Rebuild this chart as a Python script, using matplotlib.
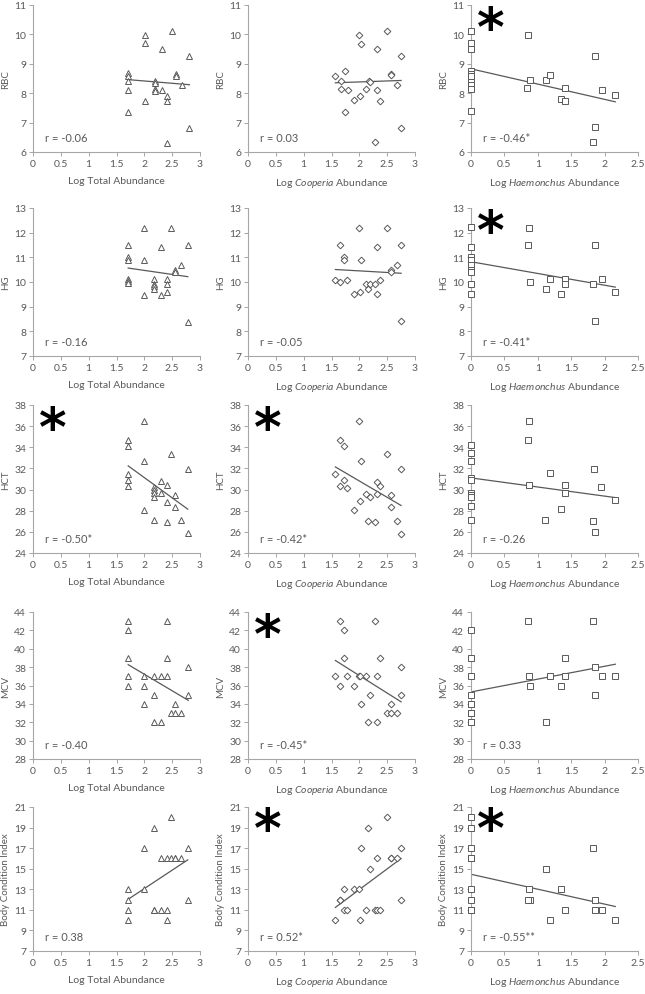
import numpy as np
import matplotlib
matplotlib.use("Agg")
import matplotlib.pyplot as plt

plt.rcParams['font.family'] = ['Lato', 'DejaVu Sans']
plt.rcParams['mathtext.fontset'] = 'custom'
plt.rcParams['mathtext.rm'] = 'Lato'
plt.rcParams['mathtext.it'] = 'Lato:italic'

# ---- data ----
# row 1: RBC
rbc_total_x = [1.71, 1.71, 1.71, 1.71, 1.71, 2.01, 2.01, 2.01, 2.19, 2.19, 2.19, 2.19,
               2.31, 2.31, 2.41, 2.41, 2.41, 2.5, 2.56, 2.56, 2.67, 2.81, 2.81]
rbc_total_y = [8.7, 8.6, 8.4, 8.1, 7.35, 9.98, 9.7, 7.75, 8.4, 8.36, 8.14, 8.08,
               9.5, 8.1, 7.9, 7.72, 6.3, 10.1, 8.65, 8.6, 8.28, 9.25, 6.8]
rbc_coop_x = [1.57, 1.67, 1.67, 1.74, 1.74, 1.79, 1.91, 1.99, 2.02, 2.03, 2.12, 2.17,
              2.2, 2.28, 2.32, 2.32, 2.37, 2.5, 2.56, 2.56, 2.68, 2.75, 2.75]
rbc_coop_y = [8.6, 8.42, 8.14, 8.74, 7.36, 8.12, 7.78, 9.98, 7.9, 9.69, 8.14, 8.42,
              8.39, 6.33, 9.5, 8.12, 7.74, 10.1, 8.65, 8.61, 8.28, 9.25, 6.8]
rbc_haem_x = [0, 0, 0, 0, 0, 0, 0, 0, 0, 0, 0.86, 0.84, 0.89, 1.12, 1.19, 1.34, 1.4,
              1.4, 1.85, 1.85, 1.83, 1.96, 2.16]
rbc_haem_y = [10.12, 9.7, 9.5, 8.75, 8.67, 8.6, 8.38, 8.29, 8.13, 7.4, 9.99, 8.16, 8.44,
              8.44, 8.62, 7.79, 8.16, 7.73, 9.26, 6.84, 6.34, 8.12, 7.93]

# row 2: HG
hg_total_x = [1.71, 1.71, 1.71, 1.71, 1.71, 1.71, 2.0, 2.0, 2.0, 2.18, 2.18, 2.18, 2.18,
              2.3, 2.3, 2.4, 2.4, 2.4, 2.48, 2.55, 2.55, 2.66, 2.78, 2.78]
hg_total_y = [11.48, 11.0, 10.9, 10.12, 10.03, 9.96, 12.2, 10.9, 9.47, 10.12, 9.92, 9.85,
              9.71, 11.4, 9.47, 10.12, 9.9, 9.58, 12.2, 10.5, 10.4, 10.7, 11.48, 8.38]
hg_coop_x = [1.57, 1.66, 1.66, 1.73, 1.73, 1.78, 1.91, 1.99, 2.01, 2.03, 2.12, 2.16, 2.2,
             2.28, 2.32, 2.32, 2.37, 2.5, 2.56, 2.56, 2.68, 2.75, 2.75]
hg_coop_y = [10.1, 11.5, 10.0, 11.0, 10.9, 10.1, 9.5, 12.2, 9.6, 10.9, 9.9, 9.7, 9.9,
             9.9, 11.4, 9.5, 10.1, 12.2, 10.5, 10.4, 10.7, 11.5, 8.4]
hg_haem_x = [0, 0, 0, 0, 0, 0, 0, 0, 0, 0, 0.87, 0.85, 0.89, 1.12, 1.19, 1.34, 1.4, 1.4,
             1.85, 1.83, 1.85, 1.96, 2.16]
hg_haem_y = [12.22, 11.41, 11.0, 10.88, 10.88, 10.7, 10.49, 10.4, 9.92, 9.5, 12.2, 11.5,
             10.0, 9.71, 10.12, 9.5, 10.12, 9.92, 11.5, 9.9, 8.4, 10.12, 9.6]

# row 3: HCT
hct_total_x = [1.71, 1.71, 1.71, 1.71, 1.71, 2.0, 2.0, 2.0, 2.18, 2.18, 2.18, 2.18, 2.18,
               2.3, 2.3, 2.4, 2.4, 2.4, 2.48, 2.55, 2.55, 2.66, 2.78, 2.78]
hct_total_y = [34.66, 34.1, 31.48, 30.94, 30.37, 36.46, 32.68, 28.07, 30.2, 30.0, 29.65,
               29.27, 27.1, 30.8, 29.65, 30.4, 28.8, 26.97, 33.37, 29.52, 28.38, 27.1,
               31.95, 25.9]
hct_coop_x = [1.57, 1.66, 1.66, 1.73, 1.73, 1.78, 1.91, 1.99, 2.01, 2.03, 2.12, 2.16, 2.2,
              2.28, 2.32, 2.32, 2.37, 2.5, 2.56, 2.56, 2.68, 2.75, 2.75]
hct_coop_y = [31.49, 34.67, 30.38, 34.13, 30.95, 30.16, 28.03, 36.5, 28.9, 32.67, 29.62,
              27.05, 29.27, 26.92, 30.76, 29.62, 30.38, 33.37, 29.46, 28.35, 27.05, 31.9,
              25.8]
hct_haem_x = [0, 0, 0, 0, 0, 0, 0, 0, 0, 0, 0.85, 0.87, 0.87, 1.11, 1.19, 1.35, 1.4, 1.4,
              1.84, 1.83, 1.85, 1.94, 2.16]
hct_haem_y = [34.19, 33.43, 32.74, 31.13, 30.9, 29.7, 29.49, 29.3, 28.48, 27.15, 34.7,
              36.5, 30.43, 27.15, 31.54, 28.13, 30.43, 29.7, 31.98, 27.03, 25.96, 30.28,
              28.98]

# row 4: MCV
mcv_total_x = [1.71, 1.71, 1.71, 1.71, 1.71, 2.0, 2.0, 2.0, 2.18, 2.18, 2.18, 2.3, 2.3,
               2.4, 2.4, 2.4, 2.48, 2.55, 2.55, 2.66, 2.79, 2.79]
mcv_total_y = [43, 42, 39, 37, 36, 37, 36, 34, 37, 35, 32, 37, 32, 43, 39, 37, 33, 34, 33,
               33, 38, 35]
mcv_coop_x = [1.57, 1.66, 1.66, 1.73, 1.73, 1.78, 1.91, 1.99, 2.01, 2.03, 2.12, 2.16, 2.2,
              2.28, 2.32, 2.32, 2.37, 2.5, 2.56, 2.56, 2.68, 2.75, 2.75]
mcv_coop_y = [37, 43, 36, 42, 39, 37, 36, 37, 37, 34, 37, 32, 35, 43, 37, 32, 39, 33, 34,
              33, 33, 38, 35]
mcv_haem_x = [0, 0, 0, 0, 0, 0, 0, 0, 0, 0, 0.85, 0.87, 0.89, 1.12, 1.19, 1.35, 1.4, 1.4,
              1.83, 1.85, 1.85, 1.96, 2.16]
mcv_haem_y = [42, 39, 37, 35, 34, 34, 33, 33, 32, 32, 43, 37, 36, 32, 37, 36, 39, 37, 43,
              38, 35, 37, 37]

# row 5: Body Condition Index
bci_total_x = [1.71, 1.71, 1.71, 1.71, 2.0, 2.0, 2.18, 2.18, 2.18, 2.3, 2.3, 2.4, 2.4,
               2.4, 2.48, 2.48, 2.55, 2.55, 2.66, 2.78, 2.78]
bci_total_y = [13, 12, 11, 10, 17, 13, 19, 11, 11, 16, 11, 16, 11, 10, 20, 16, 16, 16, 16,
               17, 12]
bci_coop_x = [1.57, 1.66, 1.66, 1.73, 1.73, 1.78, 1.91, 1.99, 2.01, 2.03, 2.12, 2.16, 2.2,
              2.28, 2.32, 2.32, 2.37, 2.5, 2.56, 2.56, 2.68, 2.75, 2.75]
bci_coop_y = [10, 12, 12, 13, 11, 11, 13, 13, 10, 17, 11, 19, 15, 11, 11, 16, 11, 20, 16,
              16, 16, 17, 12]
bci_haem_x = [0, 0, 0, 0, 0, 0, 0, 0, 0, 0, 0.87, 0.89, 0.85, 1.12, 1.19, 1.35, 1.4, 1.83,
              1.85, 1.85, 1.96, 2.16]
bci_haem_y = [20, 19, 17, 16, 16, 13, 12, 11, 11, 11, 13, 12, 12, 15, 10, 13, 11, 17, 12,
              11, 11, 10]

r_labels = [["r = -0.06", "r = 0.03", "r = -0.46*"],
            ["r = -0.16", "r = -0.05", "r = -0.41*"],
            ["r = -0.50*", "r = -0.42*", "r = -0.26"],
            ["r = -0.40", "r = -0.45*", "r = 0.33"],
            ["r = 0.38", "r = 0.52*", "r = -0.55**"]]
starred = [[False, False, True],
           [False, False, True],
           [True, True, False],
           [False, True, False],
           [False, True, True]]
row_names = ["RBC", "HG", "HCT", "MCV", "Body Condition Index"]
col_names = ["Log Total Abundance", "Log $\\mathit{Cooperia}$ Abundance",
             "Log $\\mathit{Haemonchus}$ Abundance"]
y_ranges = [(6, 11, 1), (7, 13, 1), (24, 38, 2), (28, 44, 2), (7, 21, 2)]

panels = [
    [(rbc_total_x, rbc_total_y), (rbc_coop_x, rbc_coop_y), (rbc_haem_x, rbc_haem_y)],
    [(hg_total_x, hg_total_y), (hg_coop_x, hg_coop_y), (hg_haem_x, hg_haem_y)],
    [(hct_total_x, hct_total_y), (hct_coop_x, hct_coop_y), (hct_haem_x, hct_haem_y)],
    [(mcv_total_x, mcv_total_y), (mcv_coop_x, mcv_coop_y), (mcv_haem_x, mcv_haem_y)],
    [(bci_total_x, bci_total_y), (bci_coop_x, bci_coop_y), (bci_haem_x, bci_haem_y)],
]
markers = ["^", "D", "s"]
msizes = [4.5, 3.4, 4.2]

W, H = 645, 995
fig = plt.figure(figsize=(W / 100, H / 100), dpi=100)

col_left = [33, 248, 471]
col_w = 167
row_top = [6, 209, 406, 613, 808]
row_bot = [153, 357, 554, 760, 952]

grey = "#595959"
axis_grey = "#a6a6a6"

for i in range(5):
    for j in range(3):
        ax = fig.add_axes([col_left[j] / W, 1 - row_bot[i] / H, col_w / W,
                           (row_bot[i] - row_top[i]) / H])
        x = np.array(panels[i][j][0], dtype=float)
        y = np.array(panels[i][j][1], dtype=float)
        ax.plot(x, y, linestyle="none", marker=markers[j], ms=msizes[j],
                mfc="white", mec=grey, mew=0.7, clip_on=False, zorder=3)
        # linear trend line
        k, b = np.polyfit(x, y, 1)
        xs = np.array([x.min(), x.max()])
        ax.plot(xs, k * xs + b, color=grey, lw=0.9, zorder=2)

        lo, hi, step = y_ranges[i]
        ax.set_ylim(lo, hi)
        ax.set_yticks(np.arange(lo, hi + 0.01, step))
        if j == 2:
            ax.set_xlim(0, 2.5)
            ax.set_xticks([0, 0.5, 1, 1.5, 2, 2.5])
            ax.set_xticklabels(["0", "0.5", "1", "1.5", "2", "2.5"])
        else:
            ax.set_xlim(0, 3)
            ax.set_xticks([0, 0.5, 1, 1.5, 2, 2.5, 3])
            ax.set_xticklabels(["0", "0.5", "1", "1.5", "2", "2.5", "3"])

        for s in ["top", "right"]:
            ax.spines[s].set_visible(False)
        for s in ["left", "bottom"]:
            ax.spines[s].set_color(axis_grey)
            ax.spines[s].set_linewidth(0.8)
        ax.tick_params(colors=axis_grey, labelcolor=grey, labelsize=7.5,
                       length=3, width=0.7, pad=2)
        ax.set_xlabel(col_names[j], fontsize=7.5, color=grey, labelpad=6)
        ax.set_ylabel(row_names[i], fontsize=7, color=grey, labelpad=3)

        ax.text(0.07, 0.1, r_labels[i][j], transform=ax.transAxes,
                fontsize=8, color=grey, ha="left", va="center")
        if starred[i][j]:
            ax.text(0.12, 0.83, "*", transform=ax.transAxes, fontsize=38,
                    fontweight="bold", color="black", ha="center", va="center",
                    family="DejaVu Sans")

fig.savefig("out.png", dpi=100)
